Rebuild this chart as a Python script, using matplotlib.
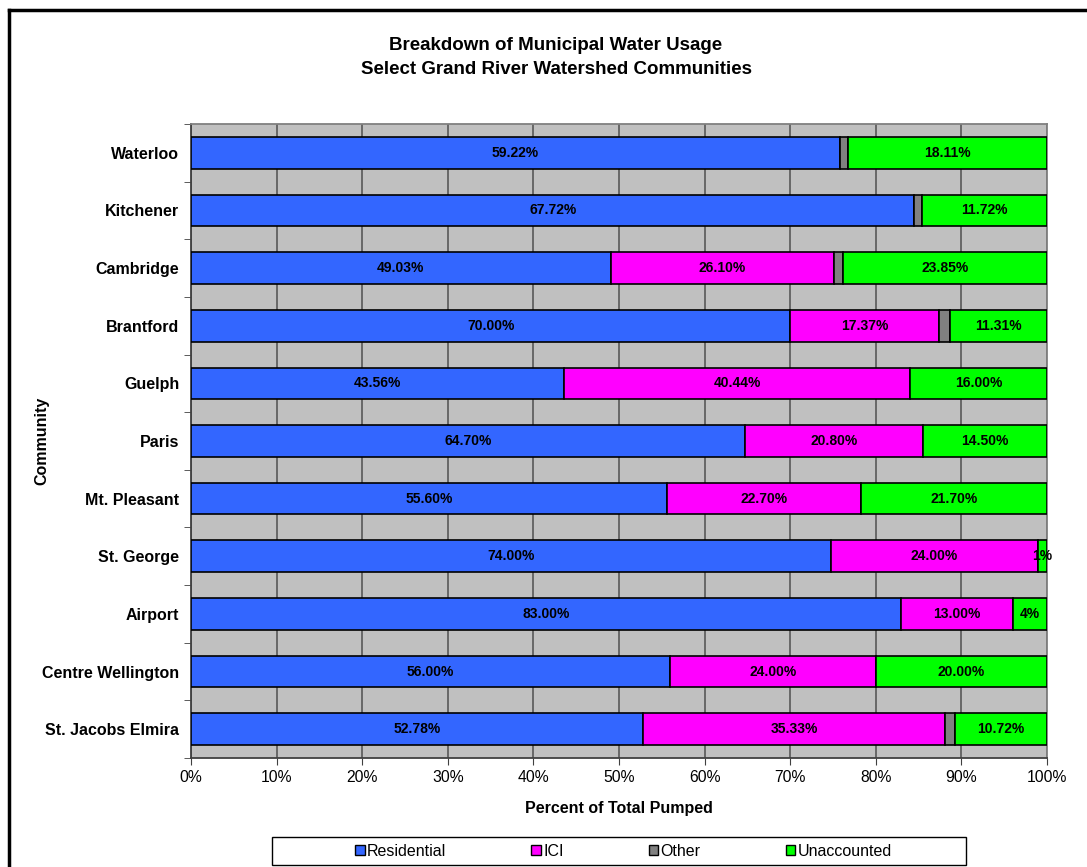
import numpy as np
import matplotlib
matplotlib.use('Agg')
import matplotlib.pyplot as plt
from matplotlib.patches import Patch, Rectangle
from matplotlib.lines import Line2D

plt.rcParams['font.family'] = ['Liberation Sans', 'DejaVu Sans']

communities = ['Waterloo', 'Kitchener', 'Cambridge', 'Brantford', 'Guelph', 'Paris',
               'Mt. Pleasant', 'St. George', 'Airport', 'Centre Wellington', 'St. Jacobs Elmira']
residential = [59.22, 67.72, 49.03, 70.00, 43.56, 64.70, 55.60, 74.00, 83.00, 56.00, 52.78]
ici = [0.0, 0.0, 26.10, 17.37, 40.44, 20.80, 22.70, 24.00, 13.00, 24.00, 35.33]
other = [0.75, 0.70, 1.02, 1.32, 0.0, 0.0, 0.0, 0.0, 0.0, 0.0, 1.17]
unaccounted = [18.11, 11.72, 23.85, 11.31, 16.00, 14.50, 21.70, 1.00, 4.00, 20.00, 10.72]

series_names = ['Residential', 'ICI', 'Other', 'Unaccounted']
colors = ['#3366FF', '#FF00FF', '#808080', '#00FF00']
labelled = [True, True, False, True]


def fmt_pct(v):
    # small whole values are shown without decimals
    if v < 5:
        return '%d%%' % round(v)
    return '%.2f%%' % v


raw = np.array([residential, ici, other, unaccounted])
totals = raw.sum(axis=0)
shares = raw / totals * 100  # stacked to 100%

fig = plt.figure(figsize=(10.87, 8.67), dpi=100)
ax = fig.add_axes([191 / 1087, 1 - 758 / 867, 856 / 1087, 634 / 867])
ax.set_facecolor('#C0C0C0')

y = np.arange(len(communities))
left = np.zeros(len(communities))
for k, name in enumerate(series_names):
    bars = ax.barh(y, shares[k], left=left, height=0.55, color=colors[k],
                   edgecolor='black', linewidth=1.2, label=name, zorder=3)
    if labelled[k]:
        for i, b in enumerate(bars):
            v = raw[k, i]
            if v <= 0:
                continue
            ax.text(left[i] + shares[k, i] / 2, y[i], fmt_pct(v), ha='center', va='center',
                    fontsize=10, fontweight='bold', color='black', zorder=5)
    left += shares[k]

ax.set_xlim(0, 100)
ax.set_ylim(len(communities) - 0.5, -0.5)
ax.set_xticks(np.arange(0, 101, 10))
ax.set_xticklabels(['%d%%' % t for t in range(0, 101, 10)], fontsize=11.3)
ax.set_yticks(y)
ax.set_yticklabels(communities, fontsize=11.5, fontweight='bold')
ax.set_yticks(np.arange(-0.5, len(communities), 1), minor=True)
ax.tick_params(axis='y', which='major', length=0, pad=8.5)
ax.tick_params(axis='y', which='minor', length=5, color='#404040')
ax.tick_params(axis='x', length=5, color='#404040', pad=4)
ax.xaxis.grid(True, color='#606060', linewidth=1.3, zorder=1)
ax.set_axisbelow(True)
for s in ax.spines.values():
    s.set_color('#808080')
    s.set_linewidth(1.3)
ax.spines['left'].set_color('#404040')
ax.spines['bottom'].set_color('#404040')

ax.set_xlabel('Percent of Total Pumped', fontsize=11.5, fontweight='bold', labelpad=11)
ax.set_ylabel('Community', fontsize=11.5, fontweight='bold')
ax.yaxis.set_label_coords(-142 / 856, 0.5)

fig.text(0.5115, 1 - 46 / 867, 'Breakdown of Municipal Water Usage', ha='center', va='center',
         fontsize=13.5, fontweight='bold')
fig.text(0.5115, 1 - 70 / 867, 'Select Grand River Watershed Communities', ha='center', va='center',
         fontsize=13.5, fontweight='bold')

# legend entries spread over the inner part, box drawn separately
handles = [Patch(facecolor=c, edgecolor='black', linewidth=1.0) for c in colors]
fig.legend(handles, series_names, loc='center', ncol=4,
           bbox_to_anchor=(355 / 1087, 1 - 865 / 867, 537 / 1087, 28 / 867),
           mode='expand', fontsize=11.5, frameon=False,
           handlelength=0.6, handleheight=0.6, handletextpad=0.15,
           borderpad=0, borderaxespad=0)
fig.add_artist(Rectangle((272 / 1087, 1 - 865 / 867), 694 / 1087, 28 / 867,
                         transform=fig.transFigure, facecolor='none', edgecolor='black',
                         linewidth=1.0))

# outer chart frame
fig.add_artist(Line2D([9 / 1087, 9 / 1087], [0, 1 - 10 / 867], color='black', linewidth=2.5,
                      transform=fig.transFigure))
fig.add_artist(Line2D([9 / 1087, 1], [1 - 10 / 867, 1 - 10 / 867], color='black', linewidth=2.5,
                      transform=fig.transFigure))

fig.savefig('out.png', dpi=100)
